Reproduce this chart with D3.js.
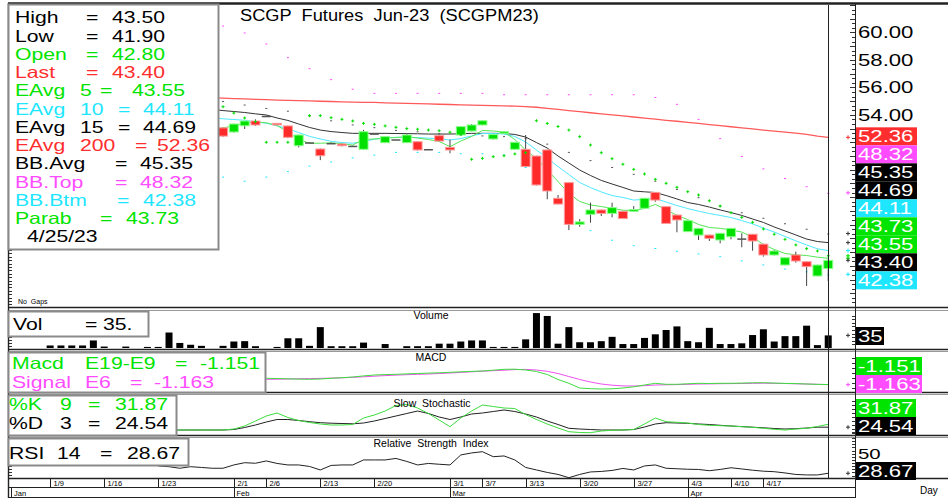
<!DOCTYPE html>
<html>
<head>
<meta charset="utf-8">
<script src="https://cdn.jsdelivr.net/npm/d3@7"></script>
<style>
body { margin: 0; background: #fff; }
svg { display: block; }
text { font-family: "Liberation Sans", Arial, sans-serif; white-space: pre; }
</style>
</head>
<body>
<svg id="chart" width="948" height="498"></svg>
<script>
// ---- data (one entry per trading bar, 1/9 .. 4/25) ----
const lead = (n, a) => Array(n).fill(null).concat(a);

const open = [55.9,55.6,55.8,56.0,55.5,55.2,55.4,55.0,54.8,54.9,54.6,54.3,54.5,54.0,53.8,53.6,
  53.05,52.75,53.2,53.55,53.93,53.38,53.19,51.75,52.0,51.51,51.95,51.87,51.75,51.49,52.65,51.97,52.22,51.97,52.04,51.51,
  52.48,51.63,52.53,52.82,53.26,52.24,52.65,51.49,51.49,51.0,51.44,47.92,49.06,46.02,46.75,47.07,46.82,46.97,46.97,47.19,
  48.35,47.31,46.7,45.49,45.24,45.24,44.88,45.12,45.0,45.3,44.58,43.79,43.06,43.79,43.3,42.26,42.8];
const high = [56.1,56.0,56.2,56.2,55.7,55.6,55.6,55.2,55.1,55.1,54.8,54.7,54.7,54.2,54.0,53.8,
  53.1,53.35,53.55,53.67,53.95,53.4,53.2,52.55,52.02,51.55,51.97,51.9,51.76,52.9,52.66,52.45,52.23,52.6,52.06,51.52,
  52.5,52.2,53.16,53.33,53.6,52.58,52.78,52.02,52.53,51.02,51.46,48.16,49.08,46.4,47.6,47.09,47.6,46.99,47.35,47.94,
  48.37,47.33,46.72,46.31,45.75,45.26,45.39,45.75,45.37,45.32,44.6,44.15,43.61,44.03,43.32,43.08,43.5];
const low = [55.4,55.4,55.6,55.3,55.0,55.0,54.8,54.6,54.6,54.4,54.1,54.1,53.8,53.6,53.4,52.9,
  52.4,52.7,52.97,53.2,53.9,53.25,52.3,51.63,51.98,50.7,51.93,51.7,51.74,51.45,52.64,51.95,52.21,51.95,51.4,51.5,
  52.05,51.2,52.5,52.8,53.24,52.2,52.63,51.47,50.2,48.85,47.85,47.48,45.6,45.85,46.14,46.63,46.53,46.42,46.95,47.17,
  47.67,46.07,45.44,45.47,44.88,44.81,44.64,44.93,44.35,44.1,43.67,43.75,43.04,43.23,41.53,42.24,41.9];
const close = [55.6,55.8,56.0,55.5,55.2,55.4,55.0,54.8,54.9,54.6,54.3,54.5,54.0,53.8,53.6,53.1,
  52.45,53.33,53.55,53.26,53.93,53.28,52.36,52.53,52.0,51.02,51.95,51.75,51.75,52.77,52.65,52.41,52.22,52.53,51.44,51.51,
  52.09,51.44,53.14,53.26,53.57,52.56,52.77,52.0,50.23,48.89,48.45,47.5,46.02,46.2,47.07,46.82,47.24,46.44,47.1,47.92,
  47.79,46.09,46.34,46.29,45.73,45.0,45.37,45.73,45.0,44.81,43.79,44.08,43.59,43.35,42.94,43.06,43.4];
const volume = [7,7,7,7,21,4,0,4,0,3,3,43,14,9,6,0,6,18,19,5,0,3,27,27,6,58,5,5,5,15,0,11,0,5,5,5,12,12,18,
  21,21,3,3,3,24,97,89,12,58,16,16,19,31,11,11,28,38,50,60,19,16,56,11,11,13,36,52,18,33,33,62,8,35];

const ema200 = lead(15, [55.24,55.21,55.18,55.16,55.13,55.10,55.07,55.05,55.03,55.01,54.99,54.97,54.95,54.93,54.91,54.90,
  54.87,54.85,54.83,54.81,54.79,54.77,54.75,54.73,54.71,54.69,54.67,54.65,54.63,54.60,54.55,54.47,54.39,54.31,54.23,54.15,
  54.07,53.99,53.92,53.84,53.76,53.68,53.60,53.53,53.45,53.37,53.29,53.21,53.13,53.05,52.97,52.89,52.81,52.74,52.66,52.58,
  52.45,52.36]);
const ema15 = lead(15, [54.39,54.31,54.24,54.17,54.07,53.99,53.77,53.59,53.33,53.08,52.89,52.78,52.71,52.65,52.65,52.65,
  52.65,52.64,52.63,52.62,52.60,52.60,52.60,52.62,52.65,52.65,52.65,52.64,52.57,52.38,51.98,51.58,51.0,50.49,49.98,49.58,
  49.22,48.96,48.71,48.45,48.39,48.34,48.12,47.87,47.61,47.47,47.28,47.07,46.88,46.67,46.41,46.16,45.83,45.54,45.25,44.95,
  44.77,44.69]);
const ema10 = lead(15, [53.77,53.71,53.66,53.60,53.49,53.39,53.20,52.98,52.71,52.43,52.24,52.07,51.98,51.93,52.06,52.22,
  52.33,52.36,52.36,52.34,52.30,52.25,52.17,52.27,52.46,52.64,52.64,52.60,52.42,52.02,51.44,50.85,50.23,49.65,49.07,48.70,
  48.38,48.12,47.98,47.79,47.85,47.90,47.65,47.39,47.17,46.98,46.81,46.67,46.52,46.30,46.05,45.75,45.46,45.14,44.82,44.52,
  44.24,44.11]);
const ema5 = lead(15, [52.93,53.05,53.19,53.37,53.48,53.42,53.22,52.75,52.20,51.93,51.93,51.96,51.89,51.80,52.20,52.24,
  52.29,52.35,52.40,52.31,52.20,52.06,51.68,52.09,52.42,52.86,52.82,52.75,52.20,51.44,50.82,49.98,49.14,48.27,47.69,47.43,
  47.32,47.18,47.05,47.03,47.18,47.47,47.10,46.67,46.37,46.01,45.79,45.73,45.61,45.46,45.10,44.55,44.19,43.90,43.80,43.75,
  43.63,43.55]);
const parab = lead(16, [54.59,54.13,53.77,53.50,52.0,52.0,52.0,null,53.94,53.94,53.79,53.67,53.55,53.38,53.31,53.19,
  53.09,52.99,52.95,52.89,52.84,52.73,52.58,50.76,50.83,50.95,51.02,51.15,51.24,53.57,53.37,53.15,52.89,52.41,51.80,51.24,
  50.80,50.40,50.03,49.69,49.30,49.01,48.72,48.40,48.16,47.74,47.35,46.87,46.53,46.17,45.68,45.30,44.93,44.52,44.25,44.08,
  43.73]);
const bbTop = lead(16, [60.5,60.2,60.0,59.6,59.2,58.7,58.2,57.8,57.4,57.0,56.6,56.2,55.9,55.7,55.6,55.6,55.6,55.6,55.6,
  55.6,55.6,55.6,55.6,55.6,55.6,55.5,55.5,55.5,55.5,55.5,55.5,55.5,55.5,55.5,55.5,55.5,55.5,55.5,55.5,55.4,55.3,55.1,54.8,
  54.3,53.7,53.0,52.3,51.6,51.0,50.5,50.1,49.7,49.4,49.1,48.8,48.55,48.32]);
const bbAvg = lead(16, [55.0,54.9,54.75,54.65,54.5,54.4,54.3,54.1,53.95,53.8,53.6,53.45,53.3,53.2,53.1,53.0,52.9,52.85,
  52.8,52.7,52.65,52.6,52.55,52.5,52.5,52.45,52.45,52.4,52.3,52.1,51.9,51.6,51.3,51.0,50.7,50.45,50.2,49.95,49.7,49.45,49.2,
  48.9,48.6,48.3,48.0,47.7,47.4,47.15,46.9,46.7,46.5,46.3,46.1,45.9,45.7,45.5,45.35]);
const bbBtm = lead(16, [49.5,49.3,49.2,49.3,49.5,49.7,49.9,50.1,50.3,50.5,50.6,50.8,50.9,51.0,51.1,51.2,51.3,51.3,51.3,
  51.3,51.3,51.2,51.2,51.2,51.2,51.2,51.1,50.8,50.2,49.4,48.5,47.6,46.8,46.1,45.6,45.2,44.9,44.7,44.5,44.4,44.3,44.2,44.1,
  44.0,43.9,43.8,43.7,43.5,43.4,43.3,43.1,42.95,42.8,42.7,42.6,42.5,42.38]);

const macd = lead(19, [-0.52,-0.53,-0.55,-0.58,-0.61,-0.63,-0.60,-0.53,-0.47,-0.40,-0.29,-0.20,-0.16,-0.13,-0.09,-0.05,
  -0.01,0.02,0.07,0.12,0.16,0.20,0.28,0.37,0.38,0.30,0.15,-0.15,-0.65,-1.03,-1.50,-1.57,-1.60,-1.58,-1.50,-1.38,-1.20,-1.03,
  -1.13,-1.13,-1.08,-1.03,-1.05,-1.03,-1.03,-1.01,-0.98,-0.97,-1.01,-1.04,-1.06,-1.10,-1.14,-1.151]);
const signal = lead(19, [-0.63,-0.63,-0.62,-0.60,-0.58,-0.56,-0.54,-0.51,-0.48,-0.43,-0.38,-0.32,-0.26,-0.21,-0.17,-0.13,
  -0.10,-0.05,0.00,0.06,0.12,0.18,0.23,0.28,0.34,0.36,0.30,0.17,-0.05,-0.35,-0.65,-0.90,-1.10,-1.22,-1.29,-1.30,-1.27,-1.20,
  -1.18,-1.16,-1.13,-1.10,-1.09,-1.07,-1.06,-1.05,-1.03,-1.02,-1.03,-1.05,-1.08,-1.10,-1.13,-1.163]);
const stochK = lead(11, [17.5,17.5,17.5,17.5,17.5,17.5,20,27.5,40,52.5,60,48.75,41.25,36.25,32.5,30,30,31.25,47.5,55,65,
  78.75,81.25,72.5,58.75,42.5,25.75,47.5,65,80,76.25,72.5,71.25,56.25,43.75,32.5,22.5,13.25,11.25,10.75,15,16.75,17.5,18.75,
  32.5,47.5,38.25,36.75,35,31.25,29.25,28.25,27.5,25.75,24.25,21.75,19.25,17.5,20,21.75,26.25,31.87]);
const stochD = lead(11, [17.5,17.5,17.5,17.5,17.5,17.5,18.75,23.75,30,37.5,43.75,43.75,41.25,38.25,35.75,34.5,33.75,33,35,
  40,46.25,52.5,58.75,65,58.75,50,43.75,50,57.5,60,63.75,67.5,63.75,57.5,50,40,31.25,21.75,20,18.75,17.5,17.5,17.5,18.75,25,
  32.5,35.75,35,34.25,32.5,31.25,29.25,27.5,26,24.5,23,21.25,20,20.75,22.5,24.5,24.54]);
const rsi = lead(10, [40.4,39.2,36.7,39.2,38.0,36.7,36.7,42.0,45.6,44.7,48.4,44.4,42.0,42.0,39.6,34.0,41.2,42.0,42.0,50.0,
  50.0,50.0,52.4,47.6,42.0,44.4,43.1,42.0,58.0,61.2,63.2,55.2,56.4,50.0,38.0,34.0,30.0,26.8,21.6,26.8,30.8,31.6,33.2,36.4,
  34.0,40.4,42.0,36.7,35.9,35.1,34.8,32.8,34.8,37.5,35.6,33.6,32.0,31.2,29.2,26.8,26.0,26.0,28.67]);

const tickIdx = [0, 5, 10, 17, 20, 25, 30, 37, 40, 44, 49, 54, 59, 63, 66];
const tickLabels = ['1/9','1/16','1/23','2/1','2/6','2/13','2/20','3/1','3/7','3/13','3/20','3/27','4/3','4/10','4/17'];
const monthIdx = [17, 37, 59];
const monthLabels = ['Feb', 'Mar', 'Apr'];
const priceTicks = [60, 58, 56, 54];
const priceTags = [52.36, 48.32, 45.35, 44.69, 44.11, 43.73, 43.55, 43.40, 42.38];

// ---- colours ----
const GREEN = '#00e400', RED = '#ff2e2e', CYAN = '#1ee6ff', MAG = '#ff4cff', BLACK = '#000';
const tagColors = [RED, MAG, BLACK, BLACK, CYAN, GREEN, GREEN, BLACK, CYAN];

const N = close.length;
const svg = d3.select('#chart');

const x = d3.scaleLinear().domain([-3.9, 74.2]).range([8, 852]);
const yP = d3.scaleLinear().domain([40, 62]).range([307, 5]);
const yV = d3.scaleLinear().domain([0, 100]).range([348, 312]);
const yM = d3.scaleLinear().domain([-2, 2]).range([393, 353]);
const yS = d3.scaleLinear().domain([0, 100]).range([437, 397]);
const yR = d3.scaleLinear().domain([0, 100]).range([491.2, 428.7]);

function txt(parent, px, py, s, color, size, sx, anchor) {
  return parent.append('text')
    .attr('transform', `translate(${px},${py}) scale(${sx || 1},1)`)
    .attr('font-size', size)
    .attr('fill', color)
    .attr('text-anchor', anchor || 'start')
    .text(s);
}

// clip regions for the panels
const defs = svg.append('defs');
const panels = {
  price: [8, 5, 844, 302], vol: [8, 311, 844, 38], macd: [8, 352, 844, 40],
  stoch: [8, 395, 844, 40], rsi: [8, 438, 844, 40]
};
Object.entries(panels).forEach(([k, r]) => {
  defs.append('clipPath').attr('id', 'clip-' + k).append('rect')
    .attr('x', r[0]).attr('y', r[1]).attr('width', r[2]).attr('height', r[3]);
});

const lineOf = (scale) => d3.line()
  .defined(d => d != null)
  .x((d, i) => x(i))
  .y(d => scale(d));

// ---------------- price panel ----------------
const pp = svg.append('g').attr('clip-path', 'url(#clip-price)');

// bollinger bands: sparse dotted, every other bar
[[bbTop, MAG], [bbAvg, '#555'], [bbBtm, CYAN]].forEach(([arr, col]) => {
  pp.selectAll(null).data(arr.map((v, i) => [v, i]).filter(d => d[0] != null && d[1] % 2 === 0)).join('rect')
    .attr('x', d => x(d[1]) - 1).attr('y', d => yP(d[0]))
    .attr('width', 2).attr('height', 1).attr('fill', col);
});

[[ema200, '#ff5a5a', 1.3], [ema15, '#333', 1], [ema10, '#4fe8ff', 1], [ema5, '#55e655', 1]].forEach(([arr, col, w]) => {
  pp.append('path').datum(arr).attr('d', lineOf(yP))
    .attr('fill', 'none').attr('stroke', col).attr('stroke-width', w);
});

const bars = pp.selectAll('g.bar').data(d3.range(N)).join('g').attr('class', 'bar');
bars.append('line')
  .attr('x1', i => x(i)).attr('x2', i => x(i))
  .attr('y1', i => yP(high[i])).attr('y2', i => yP(low[i]))
  .attr('stroke', '#444').attr('stroke-width', 1);
bars.append('rect')
  .attr('x', i => x(i) - 4.5).attr('width', 9)
  .attr('y', i => yP(Math.max(open[i], close[i])))
  .attr('height', i => Math.max(1.5, Math.abs(yP(open[i]) - yP(close[i]))))
  .attr('fill', i => Math.abs(open[i] - close[i]) < 0.03 ? '#555' : (close[i] > open[i] ? '#00e000' : '#ff2a2a'))
  .attr('stroke', i => Math.abs(open[i] - close[i]) < 0.03 ? 'none' : (close[i] > open[i] ? '#8cff8c' : '#ff9c9c'))
  .attr('stroke-width', 1);

// parabolic SAR
pp.selectAll('path.sar').data(parab.map((v, i) => [v, i]).filter(d => d[0] != null)).join('path')
  .attr('class', 'sar')
  .attr('d', d => `M${x(d[1]) - 1.5},${yP(d[0])}h3M${x(d[1])},${yP(d[0]) - 1.5}v3`)
  .attr('stroke', '#00dd00').attr('stroke-width', 1);

txt(svg, 18, 304, 'No  Gaps', '#000', 7);

// ---------------- volume ----------------
const vp = svg.append('g').attr('clip-path', 'url(#clip-vol)');
vp.selectAll('rect').data(volume.map((v, i) => [v, i]).filter(d => d[0] > 0)).join('rect')
  .attr('x', d => x(d[1]) - 3.5).attr('width', 7)
  .attr('y', d => yV(d[0])).attr('height', d => yV(0) - yV(d[0]))
  .attr('fill', '#000');
txt(svg, 431, 319, 'Volume', '#000', 10, 1.05, 'middle');

// ---------------- MACD ----------------
const mp = svg.append('g').attr('clip-path', 'url(#clip-macd)');
mp.append('path').datum(signal).attr('d', lineOf(yM)).attr('fill', 'none').attr('stroke', '#f050f0');
mp.append('path').datum(macd).attr('d', lineOf(yM)).attr('fill', 'none').attr('stroke', '#3ddd3d');
txt(svg, 431, 361, 'MACD', '#000', 10, 1.05, 'middle');

// ---------------- stochastic ----------------
const sp = svg.append('g').attr('clip-path', 'url(#clip-stoch)');
sp.append('path').datum(stochD).attr('d', lineOf(yS)).attr('fill', 'none').attr('stroke', '#222');
sp.append('path').datum(stochK).attr('d', lineOf(yS)).attr('fill', 'none').attr('stroke', '#3ddd3d');
txt(svg, 432, 407, 'Slow  Stochastic', '#000', 10, 1.05, 'middle');

// ---------------- RSI ----------------
const rp = svg.append('g').attr('clip-path', 'url(#clip-rsi)');
rp.append('path').datum(rsi).attr('d', lineOf(yR)).attr('fill', 'none').attr('stroke', '#222');
txt(svg, 431, 447, 'Relative  Strength  Index', '#000', 10, 1.05, 'middle');

// ---------------- frame ----------------
const frame = svg.append('g').attr('stroke', '#222').attr('fill', 'none');
frame.append('line').attr('x1', 8).attr('x2', 948).attr('y1', 3.5).attr('y2', 3.5).attr('stroke-width', 2.5);
[307.5, 349.5, 392.5, 435.5, 478.5].forEach(v =>
  frame.append('line').attr('x1', 8).attr('x2', 948).attr('y1', v).attr('y2', v).attr('stroke-width', 1.4));
[310.5, 351.5, 394.5, 437.5].forEach(v =>
  frame.append('line').attr('x1', 8).attr('x2', 948).attr('y1', v).attr('y2', v).attr('stroke', '#999'));
frame.append('line').attr('x1', 8).attr('x2', 855).attr('y1', 487.5).attr('y2', 487.5).attr('stroke-width', 1);
frame.append('line').attr('x1', 8).attr('x2', 855).attr('y1', 497.5).attr('y2', 497.5).attr('stroke-width', 1);
frame.append('line').attr('x1', 8.5).attr('x2', 8.5).attr('y1', 3).attr('y2', 498).attr('stroke-width', 1.4);
frame.append('line').attr('x1', 855.5).attr('x2', 855.5).attr('y1', 3).attr('y2', 498).attr('stroke-width', 1);
frame.append('line').attr('x1', 828.5).attr('x2', 828.5).attr('y1', 5).attr('y2', 478).attr('stroke-width', 1);

// right-axis ticks
const tk = svg.append('g').attr('stroke', '#333').attr('stroke-width', 1);
d3.range(40.3333, 62, 1 / 3).forEach(v => {
  const yy = Math.round(yP(v)) + 0.5;
  const major = Math.abs(v - Math.round(v)) < 0.01;
  tk.append('line').attr('x1', major ? 850 : 852).attr('x2', 855).attr('y1', yy).attr('y2', yy);
});
[[yV, d3.range(10, 100, 10)], [yM, d3.range(-1.5, 2, 0.5)], [yS, d3.range(10, 100, 10)], [yR, d3.range(15, 100, 5)]]
  .forEach(([sc, vals]) => vals.forEach(v => {
    const yy = Math.round(sc(v)) + 0.5;
    const [a, b] = sc.range();
    if (yy > Math.min(a, b) + 1 && yy < Math.max(a, b) - 1 && yy < 478)
      tk.append('line').attr('x1', 852).attr('x2', 855).attr('y1', yy).attr('y2', yy);
  }));
// small left ticks
d3.range(250, 306, 3.4).forEach(v => tk.append('line').attr('x1', 9).attr('x2', 12).attr('y1', Math.round(v) + 0.5).attr('y2', Math.round(v) + 0.5));
d3.range(337, 348, 3).forEach(v => tk.append('line').attr('x1', 9).attr('x2', 12).attr('y1', v + 0.5).attr('y2', v + 0.5));
d3.range(466, 478, 3).forEach(v => tk.append('line').attr('x1', 9).attr('x2', 12).attr('y1', v + 0.5).attr('y2', v + 0.5));

// ---------------- date axis ----------------
const da = svg.append('g');
tickIdx.forEach((ix, k) => {
  const xx = Math.round(x(ix)) + 0.5;
  da.append('line').attr('x1', xx).attr('x2', xx).attr('y1', 479).attr('y2', 487).attr('stroke', '#222');
  txt(da, xx + 3, 486, tickLabels[k], '#000', 7.5);
});
da.append('line').attr('x1', 11.5).attr('x2', 11.5).attr('y1', 488).attr('y2', 497).attr('stroke', '#222');
txt(da, 14, 496, 'Jan', '#000', 7.5);
monthIdx.forEach((ix, k) => {
  const xx = Math.round(x(ix)) + 0.5;
  da.append('line').attr('x1', xx).attr('x2', xx).attr('y1', 479).attr('y2', 497).attr('stroke', '#222');
  txt(da, xx + 2, 496, monthLabels[k], '#000', 7.5);
});
txt(svg, 920, 494, 'Day', '#000', 10);

// ---------------- right labels ----------------
const rl = svg.append('g');
priceTicks.forEach(v => txt(rl, 858, yP(v) + 6, v.toFixed(2), '#000', 16.3, 1.36));
const tag0 = yP(priceTags[0]) - 10;
priceTags.forEach((v, k) => {
  const top = tag0 + k * 18;
  rl.append('rect').attr('x', 856).attr('y', top).attr('width', 61).attr('height', 18).attr('fill', tagColors[k]);
  txt(rl, 858, top + 15, v.toFixed(2), '#fff', 16.3, 1.36);
  rl.append('path').attr('d', `M${846},${yP(v)}h4M${848},${yP(v) - 2}v4`).attr('stroke', tagColors[k] === BLACK ? '#333' : tagColors[k]);
});

function tag(xx, top, w, s, fill) {
  rl.append('rect').attr('x', xx).attr('y', top).attr('width', w).attr('height', 18).attr('fill', fill);
  txt(rl, xx + 2, top + 15, s, '#fff', 16.3, 1.36);
}
tag(856, 327, 28, '35', BLACK);
tag(856, 357, 66, '-1.151', GREEN);
tag(856, 375, 66, '-1.163', MAG);
tag(856, 399, 60, '31.87', GREEN);
tag(856, 417, 60, '24.54', BLACK);
txt(rl, 858, 459, '50', '#000', 15, 1.36);
tag(856, 462, 60, '28.67', BLACK);
[[yV(35), '#333'], [yM(-1.163), MAG], [yS(24.54), '#333'], [yR(28.67), '#333']].forEach(([yy, c]) =>
  rl.append('path').attr('d', `M846,${yy}h4M848,${yy - 2}v4`).attr('stroke', c));

// ---------------- title ----------------
txt(svg, 240, 21, 'SCGP  Futures  Jun-23  (SCGPM23)', '#000', 16.3, 1.12);

// ---------------- legend boxes ----------------
function box(x0, y0, w, h) {
  svg.append('rect').attr('x', x0 + 0.5).attr('y', y0 + 0.5).attr('width', w).attr('height', h)
    .attr('fill', '#fff').attr('stroke', '#8a8a8a').attr('stroke-width', 2);
}
const LS = 16.3, LX = 1.3;
box(8, 4, 210, 245);
const rows = [
  [['High', 15], ['=', 86], ['43.50', 112], BLACK],
  [['Low', 15], ['=', 86], ['41.90', 112], BLACK],
  [['Open', 15], ['=', 86], ['42.80', 112], GREEN],
  [['Last', 15], ['=', 86], ['43.40', 112], RED],
  [['EAvg', 15], ['5', 80], ['=', 100], ['43.55', 132], GREEN],
  [['EAvg', 15], ['10', 80], ['=', 118], ['44.11', 143], CYAN],
  [['EAvg', 15], ['15', 80], ['=', 118], ['44.69', 143], BLACK],
  [['EAvg', 15], ['200', 80], ['=', 135], ['52.36', 157], RED],
  [['BB.Avg', 15], ['=', 115], ['45.35', 140], BLACK],
  [['BB.Top', 15], ['=', 115], ['48.32', 140], MAG],
  [['BB.Btm', 15], ['=', 117], ['42.38', 143], CYAN],
  [['Parab', 15], ['=', 100], ['43.73', 126], GREEN],
  [['4/25/23', 27], BLACK]
];
rows.forEach((r, k) => {
  const col = r[r.length - 1];
  r.slice(0, -1).forEach(([s, px]) => txt(svg, px, 23.3 + k * 18.25, s, col, LS, LX));
});

box(8, 311, 140, 25);
[['Vol', 13], ['=', 85], ['35.', 103]].forEach(([s, px]) => txt(svg, px, 330, s, BLACK, LS, LX));

box(8, 352, 257, 40);
[['Macd', 12], ['E19-E9', 85], ['=', 175], ['-1.151', 200]].forEach(([s, px]) => txt(svg, px, 369, s, GREEN, LS, LX));
[['Signal', 12], ['E6', 85], ['=', 130], ['-1.163', 154]].forEach(([s, px]) => txt(svg, px, 388, s, MAG, LS, LX));

box(8, 395, 168, 40);
[['%K', 9], ['9', 60], ['=', 88], ['31.87', 115]].forEach(([s, px]) => txt(svg, px, 410, s, GREEN, LS, LX));
[['%D', 9], ['3', 60], ['=', 88], ['24.54', 115]].forEach(([s, px]) => txt(svg, px, 429, s, BLACK, LS, LX));

box(8, 438, 180, 27);
[['RSI', 9], ['14', 57], ['=', 100], ['28.67', 127]].forEach(([s, px]) => txt(svg, px, 459, s, BLACK, LS, LX));
</script>
</body>
</html>
